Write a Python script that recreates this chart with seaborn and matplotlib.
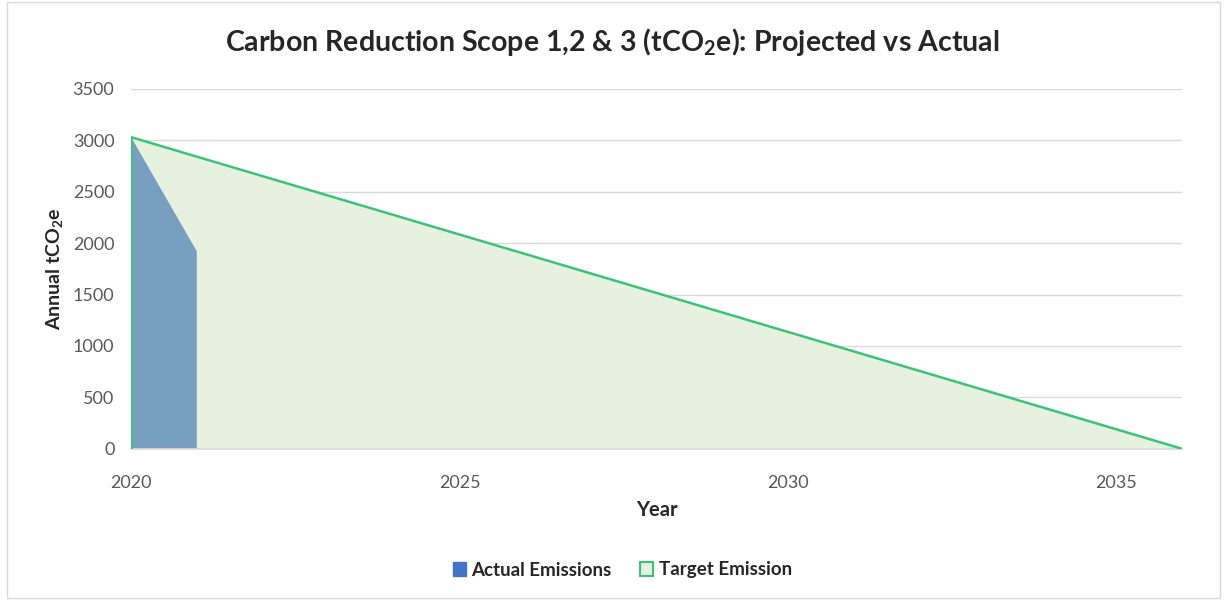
import matplotlib
matplotlib.use("Agg")
import matplotlib.pyplot as plt
import matplotlib.patches as mpatches
import seaborn as sns
import pandas as pd

# data
actual_years = [2020, 2021]
actual_emissions = [3030, 1920]
target_years = [2020, 2036]
target_emission = [3030, 0]
x_ticks = [2020, 2025, 2030, 2035]
y_ticks = [0, 500, 1000, 1500, 2000, 2500, 3000, 3500]

sns.set_theme(style="white")
plt.rcParams["font.family"] = ["Lato", "DejaVu Sans"]
plt.rcParams["mathtext.fontset"] = "custom"
plt.rcParams["mathtext.rm"] = "Lato"
plt.rcParams["mathtext.bf"] = "Lato:bold"

green_line = "#3CC27A"
green_fill = "#E6F1DF"
blue_fill = "#789FBF"
blue_legend = "#4472C4"
grey_txt = "#595959"

df_t = pd.DataFrame({"Year": target_years, "tCO2e": target_emission})
df_a = pd.DataFrame({"Year": actual_years, "tCO2e": actual_emissions})

fig = plt.figure(figsize=(12.25, 6), dpi=100)
ax = fig.add_axes([0.107, 0.252, 0.858, 0.6])

ax.fill_between(df_t["Year"], 0, df_t["tCO2e"], facecolor=green_fill, edgecolor="none", zorder=1)
ax.fill_between(df_a["Year"], 0, df_a["tCO2e"], facecolor=blue_fill, edgecolor="none", zorder=2)
sns.lineplot(data=df_t, x="Year", y="tCO2e", color=green_line, lw=1.8, ax=ax, zorder=3)
ax.plot([target_years[0], target_years[0]], [0, target_emission[0]], color=green_line, lw=1.8, zorder=3)

ax.set_xlim(2020, 2036)
ax.set_ylim(0, 3500)
ax.set_xticks(x_ticks)
ax.set_yticks(y_ticks)
ax.yaxis.grid(True, color="#D9D9D9", lw=1)
ax.set_axisbelow(True)
for s in ["top", "right", "left"]:
    ax.spines[s].set_visible(False)
ax.spines["bottom"].set_color("#D9D9D9")
ax.spines["bottom"].set_linewidth(1.2)
ax.tick_params(axis="both", colors=grey_txt, labelsize=13, length=0)
ax.tick_params(axis="x", pad=19)
ax.tick_params(axis="y", pad=12)

ax.set_xlabel("Year", fontsize=14.5, fontweight="bold", color="#262626", labelpad=6)
ax.set_ylabel("Annual tCO$_\\mathbf{2}$e", fontsize=14, fontweight="bold", color="#262626", labelpad=5)
fig.suptitle("Carbon Reduction Scope 1,2 & 3 (tCO$_\\mathbf{2}$e): Projected vs Actual",
             fontsize=20.5, fontweight="bold", color="#262626", y=0.957)

handles = [mpatches.Patch(facecolor=blue_legend, edgecolor=blue_legend, label="Actual Emissions"),
           mpatches.Patch(facecolor=green_fill, edgecolor=green_line, lw=1.5, label="Target Emission")]
leg = fig.legend(handles=handles, loc="center", bbox_to_anchor=(0.508, 0.05), ncol=2, frameon=False,
                 handlelength=0.7, handleheight=0.7, handletextpad=0.3, columnspacing=1.5,
                 prop={"size": 13.5, "weight": "bold"})
for t in leg.get_texts():
    t.set_color("#262626")

# chart area border
fig.add_artist(mpatches.Rectangle((0.006, 0.003), 0.99, 0.994, transform=fig.transFigure,
                                  fill=False, edgecolor="#D9D9D9", lw=1))

fig.savefig("out.png", dpi=100)
